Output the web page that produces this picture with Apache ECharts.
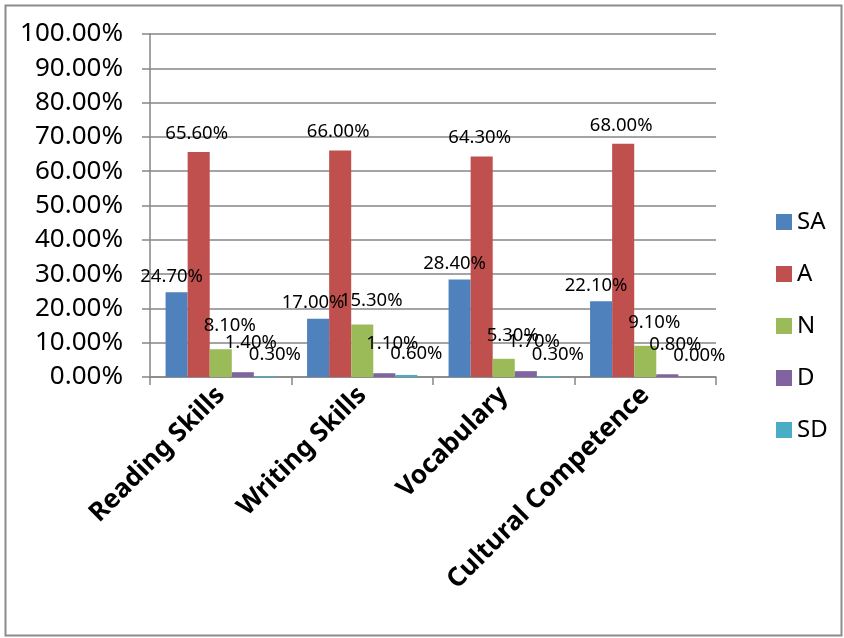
<!DOCTYPE html>
<html lang="en">
<head>
    <meta charset="UTF-8">
    <title>Skills chart</title>
    <script src="https://cdn.jsdelivr.net/npm/echarts@6/dist/echarts.min.js"></script>
    <style>
        body { margin: 0; background: #fff; }
    </style>
</head>
<body>
<div id="main" style="width:844px;height:638px;"></div>
<script type="text/javascript">
    var categories = ['Reading Skills', 'Writing Skills', 'Vocabulary', 'Cultural Competence'];
    var seriesNames = ['SA', 'A', 'N', 'D', 'SD'];
    var saValues = [24.7, 17.0, 28.4, 22.1];
    var aValues = [65.6, 66.0, 64.3, 68.0];
    var nValues = [8.1, 15.3, 5.3, 9.1];
    var dValues = [1.4, 1.1, 1.7, 0.8];
    var sdValues = [0.3, 0.6, 0.3, 0.0];

    var colors = ['#4F81BD', '#C0504D', '#9BBB59', '#8064A2', '#4BACC6'];
    var allValues = [saValues, aValues, nValues, dValues, sdValues];
    // label nudges so the text sits roughly where the original put it
    var labelOffsets = [[-5, -6], [-2, -9], [9, -14], [8, -20], [10, -12]];

    var myChart = echarts.init(document.getElementById('main'));

    var series = seriesNames.map(function (name, i) {
        return {
            name: name,
            type: 'bar',
            data: allValues[i],
            barGap: '0%',
            barCategoryGap: '22%',
            itemStyle: { color: colors[i] },
            label: {
                show: true,
                position: 'top',
                distance: 0,
                offset: labelOffsets[i],
                color: '#000',
                fontFamily: 'Noto Sans',
                fontSize: 18.5,
                formatter: function (p) { return p.value.toFixed(2) + '%'; }
            }
        };
    });

    var option = {
        animation: false,
        textStyle: { fontFamily: 'Noto Sans' },
        graphic: [{
            type: 'rect',
            left: 3, top: 3,
            shape: { width: 836, height: 630 },
            style: { fill: 'none', stroke: '#8c8c8c', lineWidth: 2 }
        }],
        grid: { left: 150, right: 128, top: 34, bottom: 261 },
        legend: {
            orient: 'vertical',
            left: 771,
            top: 205,
            itemWidth: 16,
            itemHeight: 16,
            itemGap: 28,
            icon: 'rect',
            textStyle: { fontSize: 24, color: '#000', fontFamily: 'Noto Sans' },
            data: seriesNames
        },
        xAxis: {
            type: 'category',
            data: categories,
            axisLine: { lineStyle: { color: '#868686', width: 1.5 } },
            axisTick: { show: true, length: 8, lineStyle: { color: '#868686', width: 1.5 } },
            axisLabel: {
                rotate: 45,
                margin: 14,
                interval: 0,
                color: '#000',
                fontSize: 26,
                fontWeight: 'bold',
                fontFamily: 'Noto Sans'
            }
        },
        yAxis: {
            type: 'value',
            min: 0,
            max: 100,
            interval: 10,
            axisLine: { show: true, lineStyle: { color: '#868686', width: 1.5 } },
            axisTick: { show: true, length: 8, lineStyle: { color: '#868686', width: 1.5 } },
            splitLine: { lineStyle: { color: '#868686', width: 1.5 } },
            axisLabel: {
                margin: 27,
                color: '#000',
                fontSize: 26,
                fontFamily: 'Noto Sans',
                formatter: function (v) { return v.toFixed(2) + '%'; }
            }
        },
        series: series
    };
    myChart.setOption(option);
</script>
</body>
</html>
